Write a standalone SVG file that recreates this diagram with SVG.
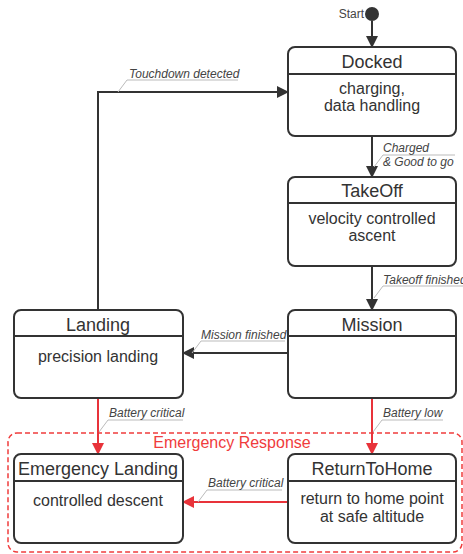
<svg xmlns="http://www.w3.org/2000/svg" width="463" height="554" viewBox="0 0 463 554">
<defs>
<marker id="ah" markerWidth="12" markerHeight="12" viewBox="0 0 12 12" refX="11" refY="6" orient="auto" markerUnits="userSpaceOnUse">
<path d="M0,0 L12,6 L0,12 Z" fill="#333"/>
</marker>
<marker id="ahr" markerWidth="12" markerHeight="12" viewBox="0 0 12 12" refX="11" refY="6" orient="auto" markerUnits="userSpaceOnUse">
<path d="M0,0 L12,6 L0,12 Z" fill="#e8333a"/>
</marker>
</defs>
<style>
.box{fill:#fff;stroke:#333;stroke-width:2}
.div{stroke:#333;stroke-width:2}
.title{font-family:"Liberation Sans",Arial,sans-serif;font-size:18px;fill:#333;text-anchor:middle}
.body{font-family:"Liberation Sans",Arial,sans-serif;font-size:16px;fill:#333;text-anchor:middle}
.lbl{font-family:"Liberation Sans",Arial,sans-serif;font-size:12px;font-style:italic;fill:#444}
.ul{stroke:#bbb;stroke-width:1;fill:none}
.c{stroke:#333;stroke-width:2;fill:none}
.cr{stroke:#e8333a;stroke-width:2;fill:none}
</style>
<rect x="8" y="433" width="454" height="119" rx="9" fill="none" stroke="#f03c3c" stroke-width="1.5" stroke-dasharray="5,3"/>
<text x="232" y="448" font-family="Liberation Sans,Arial,sans-serif" font-size="16" fill="#f03c3c" text-anchor="middle">Emergency Response</text>
<g id="start">
<circle cx="372" cy="14" r="7" fill="#333"/>
<text x="364" y="18" font-family="Liberation Sans,Arial,sans-serif" font-size="12" fill="#444" text-anchor="end">Start</text>
</g>
<g id="connectors">
<path class="c" d="M372,21 V47" marker-end="url(#ah)"/>
<path class="c" d="M372,136 V177" marker-end="url(#ah)"/>
<path class="c" d="M372,266 V310" marker-end="url(#ah)"/>
<path class="c" d="M288,353 H183" marker-end="url(#ah)"/>
<path class="c" d="M98,310 V92 H288" marker-end="url(#ah)"/>
<path class="cr" d="M98,398 V454" marker-end="url(#ahr)"/>
<path class="cr" d="M372,398 V454" marker-end="url(#ahr)"/>
<path class="cr" d="M288,502 H183" marker-end="url(#ahr)"/>
<path class="ul" d="M383,155 H455 M383,155 L374,167"/>
<text class="lbl" x="383" y="152">Charged</text>
<text class="lbl" x="383" y="166">&amp; Good to go</text>
<path class="ul" d="M383,286 H463 M383,286 L374,298"/>
<text class="lbl" x="383" y="284">Takeoff finished</text>
<path class="ul" d="M201,341 H285 M201,341 L192,353"/>
<text class="lbl" x="201" y="339">Mission finished</text>
<path class="ul" d="M127,80 H238 M127,80 L118,92"/>
<text class="lbl" x="129" y="78">Touchdown detected</text>
<path class="ul" d="M108,420 H183 M108,420 L99,432"/>
<text class="lbl" x="109" y="417">Battery critical</text>
<path class="ul" d="M382,420 H443 M382,420 L373,432"/>
<text class="lbl" x="383" y="417">Battery low</text>
<path class="ul" d="M207,490 H282 M207,490 L198,502"/>
<text class="lbl" x="208" y="487">Battery critical</text>
</g>
<g id="docked">
<rect class="box" x="288" y="47" width="168" height="89" rx="7"/>
<line class="div" x1="288" y1="74" x2="456" y2="74"/>
<text class="title" x="372" y="68">Docked</text>
<text class="body" x="372" y="94">charging,</text>
<text class="body" x="372" y="111">data handling</text>
</g>
<g id="takeoff">
<rect class="box" x="288" y="177" width="168" height="89" rx="7"/>
<line class="div" x1="288" y1="203" x2="456" y2="203"/>
<text class="title" x="372" y="197">TakeOff</text>
<text class="body" x="372" y="224">velocity controlled</text>
<text class="body" x="372" y="241">ascent</text>
</g>
<g id="mission">
<rect class="box" x="288" y="310" width="168" height="88" rx="7"/>
<line class="div" x1="288" y1="336" x2="456" y2="336"/>
<text class="title" x="372" y="331">Mission</text>
</g>
<g id="landing">
<rect class="box" x="14" y="310" width="169" height="88" rx="7"/>
<line class="div" x1="14" y1="336" x2="183" y2="336"/>
<text class="title" x="98" y="331">Landing</text>
<text class="body" x="98" y="362">precision landing</text>
</g>
<g id="emergencylanding">
<rect class="box" x="14" y="454" width="169" height="89" rx="7"/>
<line class="div" x1="14" y1="481" x2="183" y2="481"/>
<text class="title" x="98" y="475">Emergency Landing</text>
<text class="body" x="98" y="506">controlled descent</text>
</g>
<g id="returntohome">
<rect class="box" x="288" y="454" width="168" height="89" rx="7"/>
<line class="div" x1="288" y1="481" x2="456" y2="481"/>
<text class="title" x="372" y="475">ReturnToHome</text>
<text class="body" x="372" y="504">return to home point</text>
<text class="body" x="372" y="522">at safe altitude</text>
</g>
</svg>
